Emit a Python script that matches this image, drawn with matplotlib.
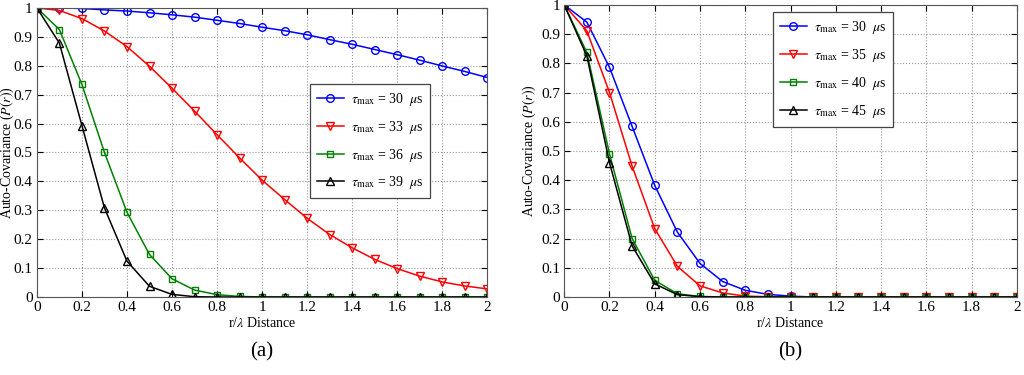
import matplotlib
matplotlib.use('Agg')
import matplotlib.pyplot as plt
import numpy as np
from matplotlib.ticker import FormatStrFormatter, MultipleLocator

plt.rcParams['font.family'] = ['Liberation Serif', 'DejaVu Serif']
plt.rcParams['mathtext.fontset'] = 'stix'

# r / lambda distance, shared by both panels
distance = [0.0, 0.1, 0.2, 0.3, 0.4, 0.5, 0.6, 0.7, 0.8, 0.9, 1.0,
            1.1, 1.2, 1.3, 1.4, 1.5, 1.6, 1.7, 1.8, 1.9, 2.0]

# panel (a)
tauA = [30, 33, 36, 39]
covA30 = [1.0, 1.0, 0.998, 0.993, 0.989, 0.983, 0.976, 0.968, 0.957, 0.946, 0.933,
          0.921, 0.907, 0.890, 0.874, 0.856, 0.838, 0.819, 0.799, 0.780, 0.759]
covA33 = [1.0, 0.991, 0.963, 0.920, 0.866, 0.798, 0.722, 0.643, 0.561, 0.481, 0.404,
          0.337, 0.272, 0.216, 0.170, 0.130, 0.098, 0.072, 0.052, 0.038, 0.028]
covA36 = [1.0, 0.925, 0.735, 0.500, 0.293, 0.147, 0.063, 0.024, 0.008, 0.002, 0.0,
          0.0, 0.0, 0.0, 0.0, 0.0, 0.0, 0.0, 0.0, 0.0, 0.0]
covA39 = [1.0, 0.878, 0.593, 0.308, 0.124, 0.037, 0.009, 0.001, 0.0, 0.0, 0.0,
          0.0, 0.0, 0.0, 0.0, 0.0, 0.0, 0.0, 0.0, 0.0, 0.0]

# panel (b)
tauB = [30, 35, 40, 45]
covB30 = [1.0, 0.941, 0.786, 0.584, 0.382, 0.222, 0.115, 0.053, 0.023, 0.009, 0.003,
          0.0, 0.0, 0.0, 0.0, 0.0, 0.0, 0.0, 0.0, 0.0, 0.0]
covB35 = [1.0, 0.911, 0.700, 0.448, 0.234, 0.105, 0.038, 0.014, 0.003, 0.001, 0.0,
          0.0, 0.0, 0.0, 0.0, 0.0, 0.0, 0.0, 0.0, 0.0, 0.0]
covB40 = [1.0, 0.837, 0.490, 0.200, 0.057, 0.011, 0.002, 0.0, 0.0, 0.0, 0.0,
          0.0, 0.0, 0.0, 0.0, 0.0, 0.0, 0.0, 0.0, 0.0, 0.0]
covB45 = [1.0, 0.825, 0.460, 0.175, 0.045, 0.008, 0.001, 0.0, 0.0, 0.0, 0.0,
          0.0, 0.0, 0.0, 0.0, 0.0, 0.0, 0.0, 0.0, 0.0, 0.0]

styles = [('#0000ff', 'o', 5.5), ('#ff0000', 'v', 6), ('#008000', 's', 4.5), ('#000000', '^', 6)]


def drawPanel(ax, taus, curves, legendBox, labelX):
    for tau, cov, (color, marker, ms) in zip(taus, curves, styles):
        ax.plot(distance, cov, color=color, marker=marker, markersize=ms,
                markerfacecolor='none', markeredgewidth=1.0, linewidth=1.1,
                label=r'$\tau_{\mathrm{max}}$ = %d  $\mu$s' % tau)
    ax.set_xlim(0, 2)
    ax.set_ylim(0, 1)
    ax.xaxis.set_major_locator(MultipleLocator(0.2))
    ax.yaxis.set_major_locator(MultipleLocator(0.1))
    ax.xaxis.set_major_formatter(FormatStrFormatter('%g'))
    ax.yaxis.set_major_formatter(FormatStrFormatter('%g'))
    ax.tick_params(direction='in', top=True, right=True, labelsize=11, length=4, pad=3)
    ax.grid(True, linestyle=':', color='#999999', linewidth=0.8)
    ax.set_xlabel(r'r/$\lambda$ Distance', fontsize=10, labelpad=1)
    ax.set_ylabel(r'Auto-Covariance ($P(r)$)', fontsize=10)
    ax.yaxis.set_label_coords(labelX, 0.5)
    for s in ax.spines.values():
        s.set_color('#555555')
    leg = ax.legend(loc='upper left', bbox_to_anchor=legendBox, fontsize=10,
                    fancybox=False, edgecolor='#444444', framealpha=1,
                    handlelength=1.9, handletextpad=0.5, labelspacing=0.78,
                    borderpad=0.5, borderaxespad=0)
    leg.get_frame().set_linewidth(0.9)


fig = plt.figure(figsize=(10.24, 3.75), dpi=100)
axA = fig.add_axes([0.036, 0.208, 0.44, 0.771])
axB = fig.add_axes([0.551, 0.208, 0.442, 0.779])

drawPanel(axA, tauA, [covA30, covA33, covA36, covA39], (0.607, 0.737), -0.047)
drawPanel(axB, tauB, [covB30, covB35, covB40, covB45], (0.462, 0.975), -0.057)

fig.text(0.256, 0.05, '(a)', ha='center', fontsize=15)
fig.text(0.772, 0.05, '(b)', ha='center', fontsize=15)

fig.savefig('out.png', dpi=100)
